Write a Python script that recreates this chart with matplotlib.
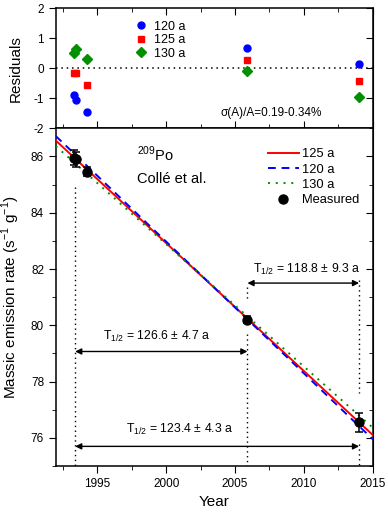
import numpy as np
import matplotlib
matplotlib.use("Agg")
import matplotlib.pyplot as plt
from matplotlib.ticker import MultipleLocator
from matplotlib.lines import Line2D

plt.rcParams['font.family'] = ['Liberation Sans', 'DejaVu Sans']
plt.rcParams['mathtext.fontset'] = 'custom'
plt.rcParams['mathtext.rm'] = 'Liberation Sans'
plt.rcParams['axes.unicode_minus'] = False

# measured points
years = [1993.3, 1993.45, 1994.25, 2005.9, 2014.0]
rate = [85.95, 85.9, 85.45, 80.2, 76.55]
rate_err = [0.27, 0.27, 0.16, 0.12, 0.35]

# residuals for the three half-lives
res_120 = [-0.88, -1.05, -1.45, 0.68, 0.15]
res_125 = [-0.15, -0.15, -0.55, 0.27, -0.42]
res_130 = [0.52, 0.65, 0.30, -0.10, -0.95]

# fitted decay curves (end points)
fit_years = [1992.0, 2015.0]
fit_125 = [86.56, 76.10]
fit_120 = [86.72, 75.95]
fit_130 = [86.36, 76.36]

green = '#009000'

fig = plt.figure(figsize=(3.88, 5.15), dpi=100)
ax_r = fig.add_axes([0.144, 0.751, 0.817, 0.233])
ax = fig.add_axes([0.144, 0.095, 0.817, 0.656])

# ---- residuals panel
ax_r.axhline(0, color='black', ls=(0, (1, 2.5)), lw=1.1)
ax_r.plot(years, res_120, 'o', color='blue', ms=5, label='120 a')
ax_r.plot(years, res_125, 's', color='red', ms=5, label='125 a')
ax_r.plot(years, res_130, 'D', color=green, ms=5, label='130 a')
ax_r.set_xlim(1992, 2015)
ax_r.set_ylim(-2, 2)
ax_r.set_yticks([-2, -1, 0, 1, 2])
ax_r.set_ylabel('Residuals', fontsize=11, labelpad=8)
ax_r.xaxis.set_major_locator(MultipleLocator(5))
ax_r.xaxis.set_minor_locator(MultipleLocator(2.5))
ax_r.tick_params(axis='x', which='both', direction='in', top=True, bottom=True,
                 labelbottom=False)
ax_r.tick_params(axis='x', which='major', length=5)
ax_r.tick_params(axis='x', which='minor', length=3)
ax_r.tick_params(axis='y', direction='out', length=5, labelsize=8.5)
sec = ax_r.secondary_yaxis('right')
sec.set_yticks([-2, -1, 0, 1, 2])
sec.tick_params(direction='in', length=5, labelright=False)
ax_r.legend(loc='upper left', bbox_to_anchor=(0.22, 0.97), frameon=False, fontsize=9,
            handletextpad=0.6, labelspacing=0.12, handlelength=1.0, borderpad=0.2)
ax_r.text(0.52, 0.1, 'σ(A)/A=0.19-0.34%', transform=ax_r.transAxes, fontsize=8.5)

# ---- main panel
l125, = ax.plot(fit_years, fit_125, color='red', lw=1.4, zorder=3)
l120, = ax.plot(fit_years, fit_120, color='blue', lw=1.4, ls=(0, (4, 3)), zorder=3)
l130, = ax.plot(fit_years, fit_130, color=green, lw=1.4, ls=(0, (1, 3)), zorder=3)
ax.errorbar(years, rate, yerr=rate_err, fmt='o', color='black', ms=6.5, capsize=3,
            elinewidth=1.1, capthick=1.1, zorder=4)

dot = dict(color='black', ls=(0, (1, 2.5)), lw=1.0, zorder=1)
ax.plot([1993.4, 1993.4], [84.9, 75], **dot)
ax.plot([2005.9, 2005.9], [81.35, 80.9], **dot)
ax.plot([2005.9, 2005.9], [79.7, 75], **dot)
ax.plot([2014.0, 2014.0], [81.6, 77.6], **dot)
ax.plot([2014.0, 2014.0], [75.8, 75], **dot)

arrow = dict(arrowstyle='<|-|>', color='black', lw=1.0, mutation_scale=9,
             shrinkA=0, shrinkB=0)
ax.annotate('', xy=(2005.9, 81.5), xytext=(2014.0, 81.5), arrowprops=arrow)
ax.annotate('', xy=(1993.4, 79.07), xytext=(2005.9, 79.07), arrowprops=arrow)
ax.annotate('', xy=(1993.4, 75.7), xytext=(2014.0, 75.7), arrowprops=arrow)
ax.text(2006.3, 82.0, r'T$_{1/2}$ = 118.8 ± 9.3 a', fontsize=8.8, va='center')
ax.text(1995.4, 79.6, r'T$_{1/2}$ = 126.6 ± 4.7 a', fontsize=8.8, va='center')
ax.text(1997.1, 76.3, r'T$_{1/2}$ = 123.4 ± 4.3 a', fontsize=8.8, va='center')

ax.text(1997.9, 85.85, r'$^{209}$Po', fontsize=10.5)
ax.text(1997.9, 85.05, 'Collé et al.', fontsize=10.5)

ax.set_xlim(1992, 2015)
ax.set_ylim(75, 87)
ax.xaxis.set_major_locator(MultipleLocator(5))
ax.xaxis.set_minor_locator(MultipleLocator(2.5))
ax.yaxis.set_major_locator(MultipleLocator(2))
ax.yaxis.set_minor_locator(MultipleLocator(1))
ax.tick_params(axis='both', which='both', direction='out', labelsize=8.5)
ax.tick_params(which='major', length=5)
ax.tick_params(which='minor', length=3)
sec2 = ax.secondary_yaxis('right')
sec2.yaxis.set_major_locator(MultipleLocator(2))
sec2.yaxis.set_minor_locator(MultipleLocator(1))
sec2.tick_params(which='both', direction='in', labelright=False)
sec2.tick_params(which='major', length=5)
sec2.tick_params(which='minor', length=3)
ax.set_xlabel('Year', fontsize=11)
ax.set_ylabel(r'Massic emission rate (s$^{-1}$ g$^{-1}$)', fontsize=11, labelpad=6)

meas = Line2D([], [], marker='o', color='black', ls='none', ms=6.5)
ax.legend([l125, l120, l130, meas], ['125 a', '120 a', '130 a', 'Measured'],
          loc='upper right', bbox_to_anchor=(0.995, 0.975), frameon=False, fontsize=9.3,
          handlelength=2.4, labelspacing=0.25, handletextpad=0.3)

for a in (ax, ax_r):
    for s in a.spines.values():
        s.set_linewidth(1.1)

fig.savefig('out.png', dpi=100)
